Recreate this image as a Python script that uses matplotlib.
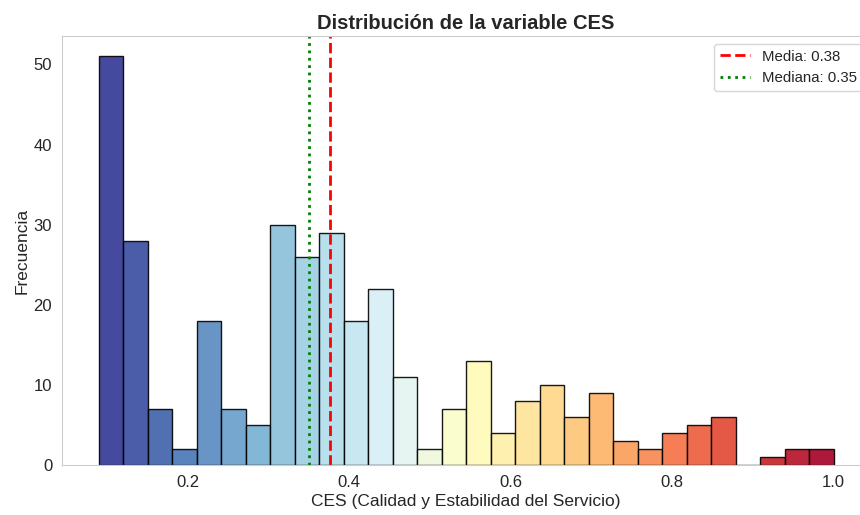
import matplotlib
matplotlib.use("Agg")
import matplotlib.pyplot as plt
import numpy as np
import seaborn as sns

# Conteos por intervalo (30 bins entre min y max de CES)
ces_min = 0.09
ces_max = 1.0
counts = [51, 28, 7, 2, 18, 7, 5, 30, 26, 29,
          18, 22, 11, 2, 7, 13, 4, 8, 10, 6,
          9, 3, 2, 4, 5, 6, 0, 1, 2, 2]
mean_ces = 0.377
median_ces = 0.351

sns.set_style("whitegrid")
plt.rcParams['font.family'] = ['Liberation Sans', 'DejaVu Sans']

edges = np.linspace(ces_min, ces_max, len(counts) + 1)
centers = (edges[:-1] + edges[1:]) / 2

fig = plt.figure(figsize=(8.6, 5.15), dpi=100)
ax = fig.add_axes([0.072, 0.097, 0.94, 0.833])

n, bins, patches = ax.hist(centers, bins=edges, weights=counts,
                           edgecolor='black', alpha=0.9)
cm = plt.cm.RdYlBu_r
for i, p in enumerate(patches):
    p.set_facecolor(cm(i / (len(patches) - 1)))

ax.axvline(mean_ces, color='red', linestyle='--', linewidth=2,
           label=f'Media: {mean_ces:.2f}')
ax.axvline(median_ces, color='green', linestyle=':', linewidth=2,
           label=f'Mediana: {median_ces:.2f}')

ax.set_title('Distribución de la variable CES', fontsize=14.5,
             fontweight='bold', pad=5)
ax.set_xlabel('CES (Calidad y Estabilidad del Servicio)', fontsize=12.5,
              labelpad=3)
ax.set_ylabel('Frecuencia', fontsize=12.5, labelpad=3)
ax.tick_params(labelsize=12)
ax.grid(False)
ax.legend(loc='upper right', fontsize=10.8)

fig.savefig('out.png', dpi=100)
